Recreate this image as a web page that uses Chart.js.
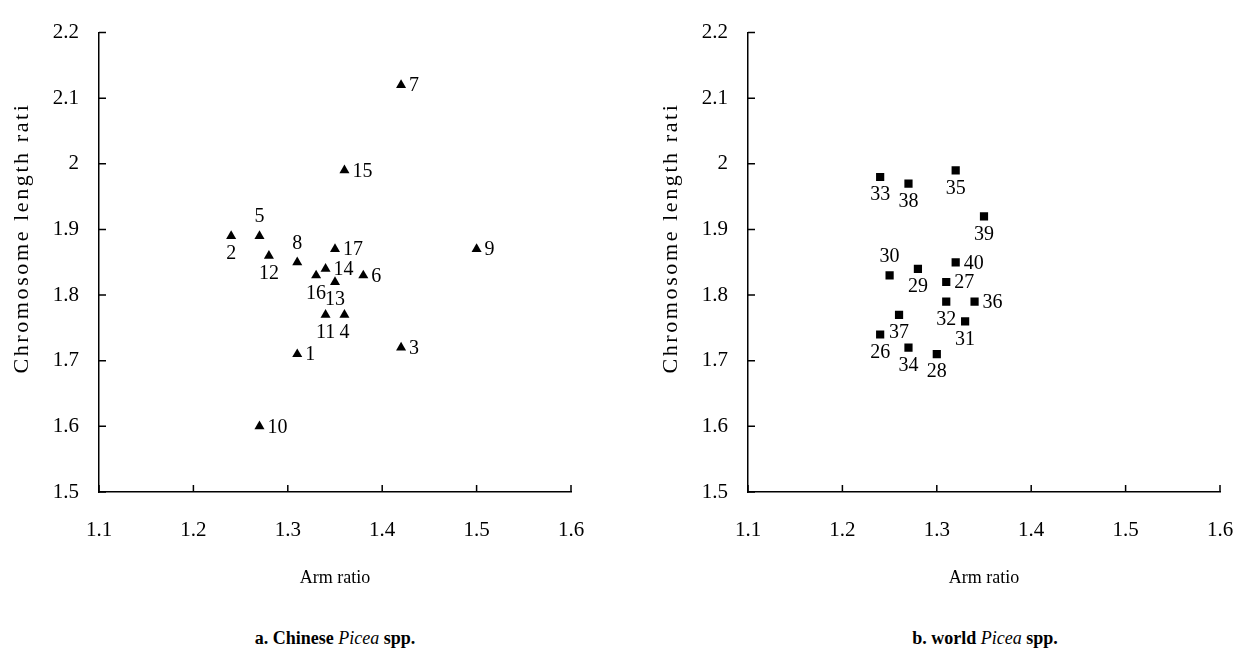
<!DOCTYPE html>
<html>
<head>
<meta charset="utf-8">
<script src="https://cdn.jsdelivr.net/npm/chart.js@4.4.0/dist/chart.umd.min.js"></script>
<style>
  body { margin: 0; background: #fff; width: 1245px; height: 658px; overflow: hidden; position: relative; font-family: "Liberation Serif", "Times New Roman", serif; }
  .box { position: absolute; top: 0; width: 622px; height: 600px; }
  #boxA { left: 0; }
  #boxB { left: 649px; }
  .cap { position: absolute; top: 628px; width: 400px; text-align: center; font-weight: bold; font-size: 18px; color: #000; }
  .cap i { font-weight: normal; }
  #capA { left: 135px; }
  #capB { left: 785px; }
</style>
</head>
<body>
<div class="box" id="boxA"><canvas id="chartA"></canvas></div>
<div class="box" id="boxB"><canvas id="chartB"></canvas></div>
<div class="cap" id="capA">a. Chinese <i>Picea</i> spp.</div>
<div class="cap" id="capB">b. world <i>Picea</i> spp.</div>
<script>
// chinese Picea spp. (no. 1-17)
var chinaIds   = ['1','2','3','4','5','6','7','8','9','10','11','12','13','14','15','16','17'];
var chinaArm   = [1.31, 1.24, 1.42, 1.36, 1.27, 1.38, 1.42, 1.31, 1.50, 1.27, 1.34, 1.28, 1.35, 1.34, 1.36, 1.33, 1.35];
var chinaLen   = [1.71, 1.89, 1.72, 1.77, 1.89, 1.83, 2.12, 1.85, 1.87, 1.60, 1.77, 1.86, 1.82, 1.84, 1.99, 1.83, 1.87];
var chinaWhere = ['r','b','r','b','a','r','r','a','r','r','b','b','b','r','r','b','r'];

// world Picea spp. (no. 26-40)
var worldIds   = ['26','27','28','29','30','31','32','33','34','35','36','37','38','39','40'];
var worldArm   = [1.24, 1.31, 1.30, 1.28, 1.25, 1.33, 1.31, 1.24, 1.27, 1.32, 1.34, 1.26, 1.27, 1.35, 1.32];
var worldLen   = [1.74, 1.82, 1.71, 1.84, 1.83, 1.76, 1.79, 1.98, 1.72, 1.99, 1.79, 1.77, 1.97, 1.92, 1.85];
var worldWhere = ['b','r','b','b','a','b','b','b','b','b','r','b','b','b','r'];

var xTicks = [1.1, 1.2, 1.3, 1.4, 1.5, 1.6];
var yTicks = [1.5, 1.6, 1.7, 1.8, 1.9, 2.0, 2.1, 2.2];
var xTitle = 'Arm ratio';
var yTitle = 'Chromosome length rati';

var FONT = '"Liberation Serif", "Times New Roman", serif';

function pts(xs, ys) {
  var out = [];
  for (var i = 0; i < xs.length; i++) out.push({x: xs[i], y: ys[i]});
  return out;
}
function fmt(v) { return String(Math.round(v * 10) / 10); }

// little inward tick marks like excel
var innerTicks = {
  id: 'innerTicks',
  afterDraw: function(chart) {
    var ctx = chart.ctx, xs = chart.scales.x, ys = chart.scales.y;
    ctx.save();
    ctx.strokeStyle = '#000';
    ctx.lineWidth = 1.5;
    ctx.beginPath();
    xTicks.forEach(function(v) {
      var px = xs.getPixelForValue(v);
      ctx.moveTo(px, ys.bottom);
      ctx.lineTo(px, ys.bottom - 7);
    });
    yTicks.forEach(function(v) {
      var py = ys.getPixelForValue(v);
      ctx.moveTo(xs.left, py);
      ctx.lineTo(xs.left + 7, py);
    });
    ctx.stroke();
    ctx.restore();
  }
};

// rotated y title, a bit wider than the normal font
var yTitlePlugin = {
  id: 'yTitlePlugin',
  afterDraw: function(chart) {
    var ctx = chart.ctx;
    ctx.save();
    ctx.translate(22, 238);
    ctx.rotate(-Math.PI / 2);
    ctx.font = '22px ' + FONT;
    ctx.letterSpacing = '2.6px';
    ctx.fillStyle = '#000';
    ctx.textAlign = 'center';
    ctx.textBaseline = 'middle';
    ctx.fillText(yTitle, 0, 0);
    ctx.restore();
  }
};

// numbers next to points
var pointNames = {
  id: 'pointNames',
  afterDatasetsDraw: function(chart) {
    var ctx = chart.ctx;
    var ds = chart.data.datasets[0];
    var meta = chart.getDatasetMeta(0);
    ctx.save();
    ctx.fillStyle = '#000';
    ctx.font = '20px ' + FONT;
    meta.data.forEach(function(el, i) {
      var w = ds.where[i];
      if (w === 'r') {
        ctx.textAlign = 'left'; ctx.textBaseline = 'middle';
        ctx.fillText(ds.ids[i], el.x + 8, el.y + 1);
      } else if (w === 'b') {
        ctx.textAlign = 'center'; ctx.textBaseline = 'middle';
        ctx.fillText(ds.ids[i], el.x, el.y + 18);
      } else {
        ctx.textAlign = 'center'; ctx.textBaseline = 'middle';
        ctx.fillText(ds.ids[i], el.x, el.y - 19);
      }
    });
    ctx.restore();
  }
};

function makeChart(id, xs, ys, ids, where, style) {
  return new Chart(document.getElementById(id), {
    type: 'scatter',
    data: {
      datasets: [{
        data: pts(xs, ys),
        ids: ids,
        where: where,
        pointStyle: style,
        pointRadius: 5.8,
        pointHoverRadius: 6,
        backgroundColor: '#000',
        borderColor: '#000',
        borderWidth: 0
      }]
    },
    options: {
      responsive: true,
      maintainAspectRatio: false,
      animation: false,
      events: [],
      layout: { padding: { left: 0, top: 22, right: 51, bottom: 0 } },
      plugins: { legend: { display: false }, tooltip: { enabled: false } },
      scales: {
        x: {
          type: 'linear', min: 1.1, max: 1.6,
          afterBuildTicks: function(s) { s.ticks = xTicks.map(function(v){ return {value: v}; }); },
          afterFit: function(s) { s.height = 108; },
          ticks: { color: '#000', font: { family: FONT, size: 21 }, padding: 26, callback: fmt, maxRotation: 0 },
          grid: { display: false, drawTicks: false },
          border: { display: true, color: '#000', width: 1.5 },
          title: { display: true, text: xTitle, color: '#000', font: { family: FONT, size: 18 }, padding: { top: 0, bottom: 11 } }
        },
        y: {
          type: 'linear', min: 1.5, max: 2.2,
          afterBuildTicks: function(s) { s.ticks = yTicks.map(function(v){ return {value: v}; }); },
          afterFit: function(s) { s.width = 99; },
          ticks: { color: '#000', font: { family: FONT, size: 21 }, padding: 20, callback: fmt },
          grid: { display: false, drawTicks: false },
          border: { display: true, color: '#000', width: 1.5 },
          title: { display: false }
        }
      }
    },
    plugins: [innerTicks, pointNames, yTitlePlugin]
  });
}

makeChart('chartA', chinaArm, chinaLen, chinaIds, chinaWhere, 'triangle');
makeChart('chartB', worldArm, worldLen, worldIds, worldWhere, 'rect');
</script>
</body>
</html>
